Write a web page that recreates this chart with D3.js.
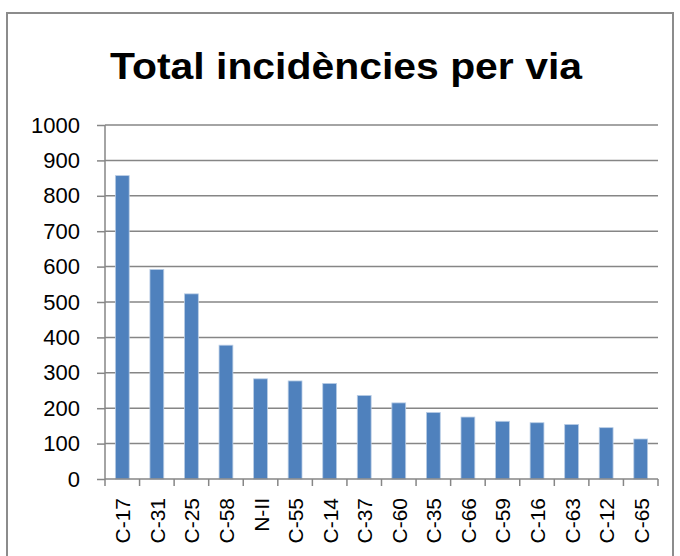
<!DOCTYPE html>
<html>
<head>
<meta charset="utf-8">
<script src="https://cdn.jsdelivr.net/npm/d3@7"></script>
<style>
  body { margin: 0; background: #fff; }
  text { font-family: "Liberation Sans", "DejaVu Sans", sans-serif; }
</style>
</head>
<body>
<div id="chart"></div>
<script>
var vies = ["C-17", "C-31", "C-25", "C-58", "N-II", "C-55", "C-14", "C-37",
            "C-60", "C-35", "C-66", "C-59", "C-16", "C-63", "C-12", "C-65"];
var incidencies = [857, 592, 523, 378, 283, 277, 270, 236,
                   215, 188, 175, 163, 159, 154, 145, 113];
var yTicks = [0, 100, 200, 300, 400, 500, 600, 700, 800, 900, 1000];
var titol = "Total incidències per via";

var W = 680, H = 556;
var margin = {top: 125, right: 22, bottom: 77, left: 105}
    , width = W - margin.left - margin.right
    , height = H - margin.top - margin.bottom;

var data = vies.map(function (v, i) {
    return {via: v, total: incidencies[i]};
});

var svg = d3.select("#chart").append("svg")
    .attr("width", W)
    .attr("height", H);

// chart border
svg.append("rect")
    .attr("x", 7).attr("y", 13)
    .attr("width", 666).attr("height", 560)
    .attr("fill", "none")
    .attr("stroke", "#8c8c8c")
    .attr("stroke-width", 2);

svg.append("text")
    .attr("x", 346)
    .attr("y", 79)
    .attr("text-anchor", "middle")
    .attr("font-size", 36)
    .attr("font-weight", "bold")
    .attr("textLength", 472)
    .attr("lengthAdjust", "spacingAndGlyphs")
    .text(titol);

var x = d3.scaleBand()
    .domain(vies)
    .range([0, width])
    .paddingInner(0.6)
    .paddingOuter(0.3);

var y = d3.scaleLinear()
    .domain([0, 1000])
    .range([height, 0]);

var main = svg.append("g")
    .attr("transform", "translate(" + margin.left + "," + margin.top + ")");

// gridlines
main.append("g")
    .selectAll("line")
    .data(yTicks.slice(1))
    .enter().append("line")
    .attr("x1", 0).attr("x2", width)
    .attr("y1", function (d) { return y(d); })
    .attr("y2", function (d) { return y(d); })
    .attr("stroke", "#868686")
    .attr("stroke-width", 1.5);

// bars
main.append("g")
    .selectAll("rect")
    .data(data)
    .enter().append("rect")
    .attr("x", function (d) { return x(d.via); })
    .attr("y", function (d) { return y(d.total); })
    .attr("width", x.bandwidth())
    .attr("height", function (d) { return height - y(d.total); })
    .attr("fill", "#4f81bd")
    .attr("stroke", "#b9cde5")
    .attr("stroke-width", 0.8);

// y axis
var yAxis = main.append("g")
    .call(d3.axisLeft(y).tickValues(yTicks).tickFormat(d3.format("d"))
        .tickSize(8).tickPadding(17));
yAxis.select(".domain").attr("stroke", "#868686").attr("stroke-width", 1.5)
    .attr("d", "M0," + height + "V0");
yAxis.selectAll(".tick line").attr("stroke", "#868686").attr("stroke-width", 1.5);
yAxis.selectAll(".tick text")
    .attr("font-size", 22)
    .attr("fill", "#000")
    .style("font-family", "'Liberation Sans', sans-serif");

// x axis: ticks at category boundaries
var xg = main.append("g")
    .attr("transform", "translate(0," + height + ")");
xg.append("line")
    .attr("x1", 0).attr("x2", width)
    .attr("stroke", "#868686")
    .attr("stroke-width", 1.5);
xg.selectAll(".sep")
    .data(d3.range(vies.length + 1))
    .enter().append("line")
    .attr("class", "sep")
    .attr("x1", function (i) { return i * width / vies.length; })
    .attr("x2", function (i) { return i * width / vies.length; })
    .attr("y1", 0).attr("y2", 7)
    .attr("stroke", "#868686")
    .attr("stroke-width", 1.5);
xg.selectAll(".lbl")
    .data(vies)
    .enter().append("text")
    .attr("class", "lbl")
    .attr("transform", function (d) {
        return "translate(" + (x(d) + x.bandwidth() / 2 + 8) + ",19) rotate(-90)";
    })
    .attr("text-anchor", "end")
    .attr("font-size", 21)
    .attr("fill", "#000")
    .text(function (d) { return d; });
</script>
</body>
</html>
